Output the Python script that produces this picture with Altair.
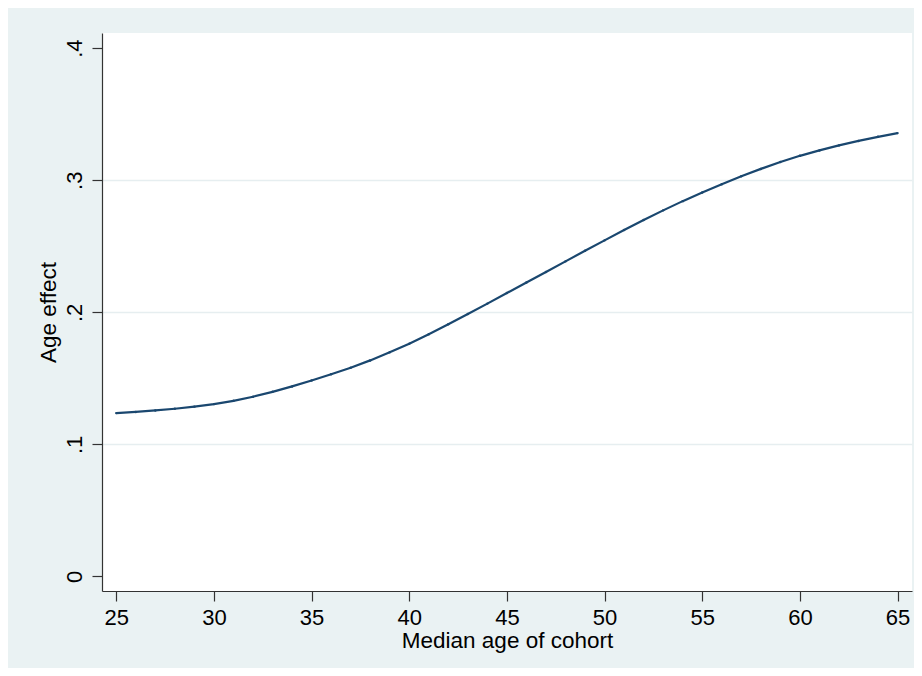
"""
Age effect by median age of cohort, drawn in the style of a Stata graph.
"""
import pandas as pd
import altair as alt

# median age of cohort
ages = list(range(25, 66))

# estimated age effect
effects = [
    0.1237, 0.1246, 0.1257, 0.1270, 0.1286, 0.1305, 0.1330, 0.1361, 0.1398, 0.1439,
    0.1484, 0.1531, 0.1581, 0.1636, 0.1697, 0.1763, 0.1834, 0.1909, 0.1987, 0.2066,
    0.2146, 0.2226, 0.2306, 0.2386, 0.2466, 0.2545, 0.2623, 0.2699, 0.2772, 0.2842,
    0.2908, 0.2970, 0.3030, 0.3086, 0.3138, 0.3185, 0.3226, 0.3264, 0.3298, 0.3329,
    0.3357,
]

x_ticks = [25, 30, 35, 40, 45, 50, 55, 60, 65]
y_ticks = [0, 0.1, 0.2, 0.3, 0.4]

df = pd.DataFrame({"age": ages, "effect": effects})

FONT = "Liberation Sans"
BG = "#EAF2F3"
NAVY = "#1a476f"

chart = alt.Chart(df).mark_line(
    color=NAVY,
    strokeWidth=2.2,
    point=alt.OverlayMarkDef(color=NAVY, size=6, filled=True),
).encode(
    x=alt.X(
        "age:Q",
        title="Median age of cohort",
        scale=alt.Scale(domain=[24.27, 65.74], nice=False, zero=False),
        axis=alt.Axis(
            values=x_ticks,
            grid=False,
            tickSize=10,
            labelPadding=6,
            titlePadding=1,
        ),
    ),
    y=alt.Y(
        "effect:Q",
        title="Age effect",
        scale=alt.Scale(domain=[-0.011, 0.4115], nice=False, zero=False),
        axis=alt.Axis(
            values=y_ticks,
            labelExpr="datum.value == 0 ? '0' : replace(format(datum.value, '.1f'), '0.', '.')",
            labelAngle=270,
            labelAlign="center",
            labelBaseline="bottom",
            labelPadding=6,
            tickSize=10,
            grid=True,
            gridColor="#E6EEF0",
            gridWidth=1.5,
            gridOpacity=alt.condition(
                "datum.value > 0.05 && datum.value < 0.35", alt.value(1), alt.value(0)
            ),
            titlePadding=3,
        ),
    ),
).properties(
    width=810,
    height=558,
    autosize=alt.AutoSizeParams(type="none"),
    padding={"left": 94, "top": 25, "right": 2, "bottom": 77},
).configure(
    background=BG,
    font=FONT,
).configure_view(
    fill="white",
    strokeWidth=0,
).configure_axis(
    domainColor="#333333",
    domainWidth=1.2,
    tickColor="#333333",
    tickWidth=1.2,
    labelColor="black",
    labelFont=FONT,
    labelFontSize=22,
    titleColor="black",
    titleFont=FONT,
    titleFontSize=22.5,
    titleFontWeight="normal",
)

chart.save("out.html", embed_options={"renderer": "svg", "actions": False})
